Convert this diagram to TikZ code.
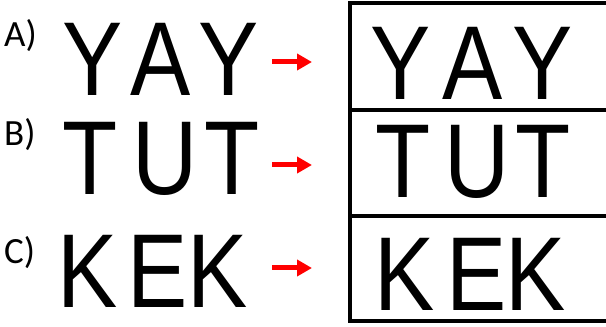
\documentclass[tikz,border=0pt]{standalone}
\usepackage{fontspec}
\setmainfont{Liberation Sans}
\newfontfamily\labelfont{Carlito}
\newfontfamily\wordfont[FakeStretch=0.86,Kerning=Off]{Liberation Sans}
\newcommand\lbox[2]{\makebox[#1pt][c]{#2}}
\usetikzlibrary{arrows.meta}
\begin{document}
\begin{tikzpicture}[x=1pt,y=1pt,
  big/.style={inner sep=0pt, anchor=base west, text depth=0pt, font=\wordfont\fontsize{105}{105}\selectfont},
  lbl/.style={inner sep=0pt, anchor=base west, text depth=0pt, font=\labelfont\fontsize{37}{37}\selectfont},
  redarrow/.style={red, line width=5pt, -{Triangle[length=15pt,width=16pt]}},
  boxline/.style={line width=4pt, line cap=rect}
]
\useasboundingbox (0,0) rectangle (606,327);
% labels
\node[lbl] (la) at (4,280) {A)};
\node[lbl] (lb) at (4,181) {B)};
\node[lbl] (lc) at (4,63) {C)};
% left words
\node[big] (w1) at (58.5,231) {\lbox{68}{Y}\lbox{68}{A}\lbox{68}{Y}};
\node[big] (w2) at (50,132) {\lbox{79}{T}\lbox{71}{U}\lbox{63}{T}};
\node[big] (w3) at (49,19) {\lbox{76}{K}\lbox{65}{E}\lbox{54}{K}};
% box
\coordinate (tl) at (349.7,323.5);
\coordinate (bl) at (349.7,5.5);
\draw[boxline] (612,323.5) -- (tl) -- (bl) -- (612,5.5);
\draw[boxline] (349.7,216.5) -- (612,216.5);
\draw[boxline] (349.7,110.5) -- (612,110.5);
% right words
\node[big] (r1) at (364.6,227) {\lbox{72.4}{Y}\lbox{71}{A}\lbox{69}{Y}};
\node[big] (r2) at (363.5,129) {\lbox{78}{T}\lbox{70.4}{U}\lbox{62.8}{T}};
\node[big] (r3) at (364.5,16) {\lbox{79.3}{K}\lbox{65.5}{E}\lbox{51.7}{K}};
% arrows
\coordinate (a1s) at (272,265);
\coordinate (a1e) at (312,265);
\coordinate (a2s) at (272,162);
\coordinate (a2e) at (312,162);
\coordinate (a3s) at (272,59);
\coordinate (a3e) at (312,59);
\draw[redarrow] (a1s) -- (a1e);
\draw[redarrow] (a2s) -- (a2e);
\draw[redarrow] (a3s) -- (a3e);
\end{tikzpicture}
\end{document}
